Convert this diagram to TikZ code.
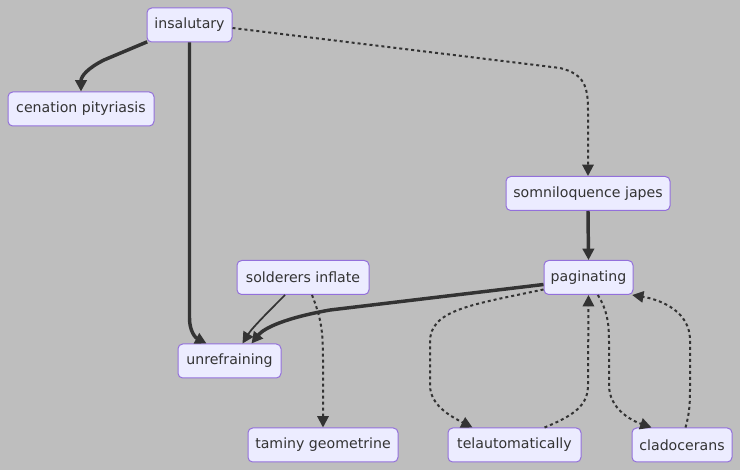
\documentclass[tikz,border=0pt]{standalone}
\usepackage{fontspec}
\setmainfont{DejaVu Sans}
\usetikzlibrary{arrows.meta}
\definecolor{bg}{HTML}{BEBEBE}
\definecolor{nodefill}{HTML}{ECECFF}
\definecolor{nodeborder}{HTML}{9370DB}
\definecolor{edgecol}{HTML}{333333}
\definecolor{txt}{HTML}{333333}
\begin{document}
\begin{tikzpicture}[x=0.75pt,y=-0.75pt,
  box/.style={draw=nodeborder, fill=nodefill, rounded corners=3.5pt, line width=0.75pt,
    minimum height=25.5pt, inner sep=0pt, font=\fontsize{10.6}{12}\selectfont, text=txt},
  w/.style={minimum width=#1*0.75pt},
  tip/.style={-{Triangle[length=8.5pt,width=8.5pt]}},
  heavy/.style={draw=edgecol, line width=2.6pt, tip},
  light/.style={draw=edgecol, line width=1.3pt, tip},
  dots/.style={draw=edgecol, line width=1.5pt, dash pattern=on 2.25pt off 2.25pt, tip}]
\fill[bg] (0,0) rectangle (740,470);
\useasboundingbox (0,0) rectangle (740,470);

\node[box,w=85]  (ins) at (189.5,25)   {insalutary};
\node[box,w=146] (cen) at (81,109)     {cenation pityriasis};
\node[box,w=164] (som) at (588,193.5)  {somniloquence japes};
\node[box,w=132] (sol) at (303,277.5)  {solderers inflate};
\node[box,w=89]  (pag) at (588.5,277.5) {paginating};
\node[box,w=103] (unr) at (229.5,361)  {unrefraining};
\node[box,w=150] (tam) at (323,445)    {taminy geometrine};
\node[box,w=133] (tel) at (514.5,445)  {telautomatically};
\node[box,w=100] (cla) at (682,445)    {cladocerans};

% insalutary -> cenation pityriasis
\draw[heavy] ([xshift=0.5pt,yshift=0.5pt]ins.south west) -- (104,60) .. controls (88,68) and (81,76) .. (cen.north);
% insalutary -> unrefraining
\draw[heavy] (ins.south) -- (189.5,318) .. controls (189.5,332) and (196,338) .. ([xshift=21.75pt]unr.north west);
% insalutary -> somniloquence japes
\draw[dots] ([yshift=-2.25pt]ins.east) -- (560,68) .. controls (584,74) and (588,86) .. (588,110) -- (som.north);
% somniloquence japes -> paginating
\draw[heavy] (som.south) -- (pag.north);
% paginating -> unrefraining
\draw[heavy] ([yshift=-5.25pt]pag.west) -- (330,310) .. controls (285,318) and (264,328) .. ([xshift=55.5pt]unr.north west);
% solderers inflate -> unrefraining
\draw[light] ([xshift=-13.5pt]sol.south) .. controls (270,310) and (252,328) .. ([xshift=48.75pt]unr.north west);
% solderers inflate -> taminy geometrine
\draw[dots] ([xshift=6.75pt]sol.south) .. controls (321,318) and (323,330) .. (323,360) -- (tam.north);
% paginating -> telautomatically
\draw[dots] ([yshift=-9pt]pag.west) .. controls (470,305) and (430,310) .. (430,342) -- (430,385) .. controls (430,405) and (450,416) .. ([xshift=18.75pt]tel.north west);
% telautomatically -> paginating
\draw[dots] ([xshift=72.75pt]tel.north west) .. controls (575,415) and (588,405) .. (588,385) -- (pag.south);
% paginating -> cladocerans
\draw[dots] ([xshift=7pt]pag.south) .. controls (607,310) and (609,322) .. (609,342) -- (609,385) .. controls (609,408) and (630,420) .. ([xshift=15pt]cla.north west);
% cladocerans -> paginating
\draw[dots] ([xshift=40.5pt]cla.north west) .. controls (690,412) and (690,400) .. (690,388) -- (690,340) .. controls (690,312) and (662,300) .. ([xshift=-1pt]pag.south east);
\end{tikzpicture}
\end{document}
